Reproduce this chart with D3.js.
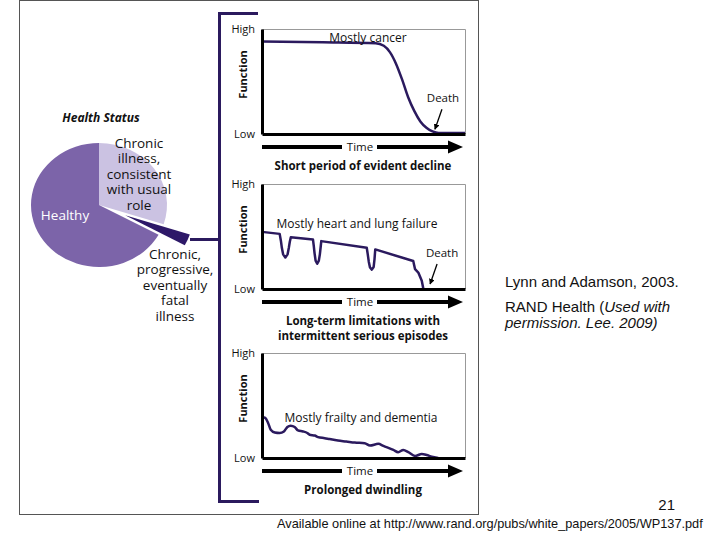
<!DOCTYPE html>
<html>
<head>
<meta charset="utf-8">
<script src="https://d3js.org/d3.v7.min.js"></script>
<style>
  body { margin: 0; background: #fff; }
  svg text { font-family: "Open Sans", sans-serif; fill: #111; }
  .axis .domain { stroke: #000; stroke-width: 3; }
  .axis text { font-family: "Open Sans", sans-serif; font-size: 11px; fill: #111; }
  .note text { font-family: "Liberation Sans", Arial, sans-serif; }
</style>
</head>
<body>
<div id="chart"></div>
<script>
  // pie: health status of the population
  const pieLabels = [
    ['Chronic', 'illness,', 'consistent', 'with usual', 'role'],
    ['Chronic,', 'progressive,', 'eventually', 'fatal', 'illness'],
    ['Healthy']
  ];
  const pieValues = [30, 3, 67];

  // trajectories, time 0-100 and function 0 (Low) .. 100 (High)
  const cancerTime = [0, 30, 56, 60, 63, 66, 69, 72, 75, 78, 81, 84, 87, 100];
  const cancerFunction = [88, 87.3, 86.5, 84, 78, 67, 52, 35, 22, 12, 6, 2.5, 1, 1];

  const heartTime = [0, 8.7, 9.3, 9.8, 10.4, 11.5, 12.6, 13.2, 13.7, 14.2,
    25.1, 25.5, 25.9, 26.4, 27.2, 28.0, 28.5, 28.9, 29.2,
    51.6, 52.1, 52.6, 53.2, 54.1, 55.0, 55.4, 55.8,
    74.5, 75.4, 77, 78.7, 79.5];
  const heartFunction = [54.4, 52.5, 46, 39, 33, 30, 33, 39, 45, 49.3,
    47.2, 41, 34, 27, 24, 27, 33, 40, 45.6,
    39.3, 33, 26, 20.5, 18.5, 21, 28, 37.7,
    26.7, 18.9, 15.7, 7.8, 0];

  const frailtyTime = [0, 1.6, 3, 4.3, 6.3, 8.7, 10.8, 12.5, 14.1, 16.1, 17.7, 20.2, 22.3, 23.5, 26, 27.6,
    30.9, 33.3, 37.4, 41.5, 45.7, 50.6, 53.2, 57.3, 59.8, 64.7, 67.1, 69.6, 72.1, 75.4, 78.7, 81.1, 83.6, 86.8];
  const frailtyFunction = [39.1, 38.2, 33.4, 26.9, 24.3, 23.8, 25.3, 29.5, 30.8, 29.5, 26.3, 25.3, 23.8, 22.1, 21.4, 19.9,
    18.9, 18, 16.6, 15.7, 14.7, 14.1, 11.8, 13.5, 11.5, 7.7, 5.5, 7.7, 5.5, 1.9, 3.8, 2.9, 1.3, 0];

  const trajTitles = ['Mostly cancer', 'Mostly heart and lung failure', 'Mostly frailty and dementia'];
  const trajCaptions = [
    ['Short period of evident decline'],
    ['Long-term limitations with', 'intermittent serious episodes'],
    ['Prolonged dwindling']
  ];
  // where the "Death" arrow points
  const deathTime = [85.2, 82.8, null];
  const deathFunction = [4.5, 4.7, null];

  const yTickValues = [0, 100];
  const yTickLabels = ['Low', 'High'];

  const trajectories = [
    cancerTime.map((t, i) => [t, cancerFunction[i]]),
    heartTime.map((t, i) => [t, heartFunction[i]]),
    frailtyTime.map((t, i) => [t, frailtyFunction[i]])
  ];
  // smooth curves for cancer and frailty, straight pieces for the episodes
  const curves = [d3.curveMonotoneX, d3.curveLinear, d3.curveMonotoneX];

  const purple = '#2b1a5e';
  const svg = d3.select('#chart').append('svg')
    .attr('width', 720)
    .attr('height', 540);

  svg.append('defs').append('marker')
    .attr('id', 'head')
    .attr('viewBox', '0 0 10 10')
    .attr('refX', 9).attr('refY', 5)
    .attr('markerWidth', 4.5).attr('markerHeight', 4.5)
    .attr('orient', 'auto')
    .append('path').attr('d', 'M0,0L10,5L0,10z').attr('fill', '#000');

  // outer frame
  svg.append('rect')
    .attr('x', 19.5).attr('y', 0.5)
    .attr('width', 459).attr('height', 514)
    .attr('fill', 'none').attr('stroke', '#555');

  // ---- pie ----
  svg.append('text')
    .attr('x', 101).attr('y', 122)
    .attr('text-anchor', 'middle')
    .style('font-size', '12px').style('font-weight', 'bold').style('font-style', 'italic')
    .text('Health Status');

  const pieR = 62;
  const pieColors = ['#cbc2e2', '#2d1868', '#7c64a9'];
  const arcs = d3.pie().sort(null)(pieValues);
  const arc = d3.arc().innerRadius(0).outerRadius(pieR);
  const pieG = svg.append('g').attr('transform', 'translate(99,205) scale(' + (68 / pieR) + ',1)');
  pieG.selectAll('path')
    .data(arcs)
    .enter()
    .append('path')
    .attr('d', arc)
    .attr('fill', (d, i) => pieColors[i])
    .attr('transform', function (d, i) {
      if (i !== 1) return null;
      // exploded slice
      let a = (d.startAngle + d.endAngle) / 2;
      return 'translate(' + (Math.sin(a) * 26) + ',' + (-Math.cos(a) * 26) + ')';
    });

  const pieLabelPos = [[139, 148, '#111'], [175, 259, '#111'], [65, 220, '#fff']];
  pieLabels.forEach(function (lines, i) {
    let t = svg.append('text')
      .attr('text-anchor', 'middle')
      .style('font-size', '13.5px')
      .style('fill', pieLabelPos[i][2]);
    lines.forEach(function (s, j) {
      t.append('tspan')
        .attr('x', pieLabelPos[i][0])
        .attr('y', pieLabelPos[i][1] + j * 15.4)
        .text(s);
    });
  });

  // bracket and connector
  svg.append('path')
    .attr('d', 'M258,13.5H219.5V501.5H259M190,239.5H219')
    .attr('fill', 'none').attr('stroke', purple).attr('stroke-width', 3);

  // ---- trajectory panels ----
  const panelLeft = 262, panelW = 203, panelH = 105;
  const panelTops = [29, 184, 353];
  const titlePos = [[106, 13], [95, 44], [99, 69]];

  const x = d3.scaleLinear().domain([0, 100]).range([0, panelW]);
  const y = d3.scaleLinear().domain([0, 100]).range([panelH, 0]);

  trajectories.forEach(function (data, i) {
    let g = svg.append('g')
      .attr('transform', 'translate(' + panelLeft + ',' + panelTops[i] + ')');

    g.append('path')
      .attr('d', 'M0,0.5H' + (panelW + 0.5) + 'V' + panelH)
      .attr('fill', 'none').attr('stroke', '#999').attr('stroke-width', 1);

    let line = d3.line()
      .x(d => x(d[0]))
      .y(d => y(d[1]))
      .curve(curves[i]);

    g.append('path')
      .datum(data)
      .attr('d', line)
      .attr('fill', 'none')
      .attr('stroke', purple)
      .attr('stroke-width', 2.5)
      .attr('stroke-linejoin', 'round');

    g.append('g')
      .attr('class', 'axis')
      .call(d3.axisLeft(y).tickValues(yTickValues)
        .tickFormat((d, j) => yTickLabels[j])
        .tickSize(0).tickSizeOuter(0).tickPadding(7));

    g.append('g')
      .attr('class', 'axis')
      .attr('transform', 'translate(0,' + panelH + ')')
      .call(d3.axisBottom(x).tickValues([]).tickSizeOuter(0));

    g.append('text')
      .attr('transform', 'translate(-15,' + (panelH / 2 - 7) + ') rotate(-90)')
      .attr('text-anchor', 'middle')
      .style('font-size', '11px').style('font-weight', 'bold')
      .text('Function');

    g.append('text')
      .attr('x', titlePos[i][0]).attr('y', titlePos[i][1])
      .attr('text-anchor', 'middle')
      .style('font-size', '12px')
      .text(trajTitles[i]);

    // time arrow
    let ay = panelH + 13;
    g.append('path')
      .attr('d', 'M0,' + ay + 'H80M115,' + ay + 'H188')
      .attr('stroke', '#000').attr('stroke-width', 4);
    g.append('path')
      .attr('d', 'M186,' + (ay - 6.5) + 'L201,' + ay + 'L186,' + (ay + 6.5) + 'Z')
      .attr('fill', '#000');
    g.append('text')
      .attr('x', 98).attr('y', ay + 4)
      .attr('text-anchor', 'middle')
      .style('font-size', '11.5px')
      .text('Time');

    trajCaptions[i].forEach(function (s, j) {
      g.append('text')
        .attr('x', 101).attr('y', panelH + 35.5 + j * 15)
        .attr('text-anchor', 'middle')
        .style('font-size', '11.5px').style('font-weight', 'bold')
        .text(s);
    });

    if (deathTime[i] !== null) {
      let dx = x(deathTime[i]), dy = y(deathFunction[i]);
      g.append('line')
        .attr('x1', dx + 7).attr('y1', dy - 20)
        .attr('x2', dx).attr('y2', dy)
        .attr('stroke', '#000').attr('stroke-width', 1.3)
        .attr('marker-end', 'url(#head)');
      g.append('text')
        .attr('x', dx + (i === 0 ? 8 : 12)).attr('y', dy - 27)
        .attr('text-anchor', 'middle')
        .style('font-size', '11.5px')
        .text('Death');
    }
  });

  // ---- notes ----
  const note = svg.append('g').attr('class', 'note');
  note.append('text').attr('x', 505).attr('y', 287).style('font-size', '15px')
    .text('Lynn and Adamson, 2003.');
  let rand = note.append('text').attr('x', 505).attr('y', 312).style('font-size', '15px');
  rand.append('tspan').text('RAND Health (');
  rand.append('tspan').style('font-style', 'italic').text('Used with');
  note.append('text').attr('x', 505).attr('y', 328).style('font-size', '15px')
    .style('font-style', 'italic').text('permission. Lee. 2009)');
  note.append('text').attr('x', 675).attr('y', 510).attr('text-anchor', 'end')
    .style('font-size', '15px').text('21');
  note.append('text').attr('x', 277).attr('y', 528).style('font-size', '12.75px')
    .text('Available online at http://www.rand.org/pubs/white_papers/2005/WP137.pdf');
</script>
</body>
</html>
